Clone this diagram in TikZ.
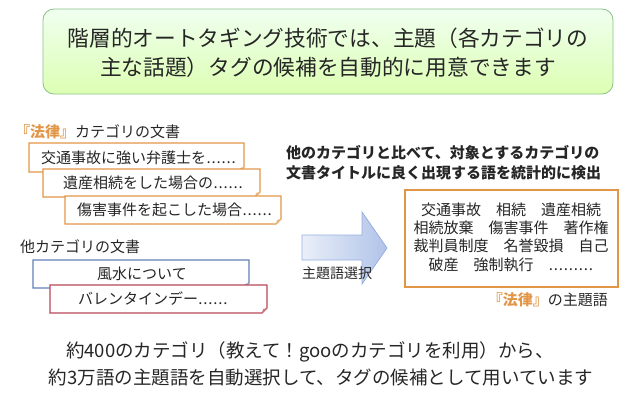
\documentclass[tikz,border=0pt]{standalone}
\usepackage{fontspec}
\newfontfamily\jp{Noto Sans CJK JP}
\newcommand\jdot{\makebox[1em][s]{\hfil.\hfil\hfil.\hfil\hfil.\hfil}}
\usetikzlibrary{calc}

\begin{document}
\begin{tikzpicture}[x=1pt,y=-1pt,
    txt/.style={font=\jp\fontsize{#1}{#1}\selectfont,text=black!85,inner sep=0pt},
    docline/.style={line width=1.1pt}]
    % Colours
    \definecolor{laworange}{RGB}{226,150,72}
    \definecolor{otherblue}{RGB}{98,128,185}
    \definecolor{otherred}{RGB}{185,72,88}
    \definecolor{arrowblue}{RGB}{150,175,225}
    \colorlet{titleedge}{green!30!gray!70}

    \useasboundingbox (0,0) rectangle (640,410);

    % Title box
    \shade[rounded corners=11pt,top color=green!6!white,bottom color=green!45!yellow!30!white,draw=titleedge,line width=0.8pt]
        (43,9) rectangle (613,94);
    \node[txt=21.7,align=center] (title) at (328,53)
        {階層的オートタギング技術では、主題（各カテゴリの\\[7pt]主な話題）タグの候補を自動的に用意できます};

    % Document cards (drawn back to front)
    \foreach \xa/\ya/\xb/\yb/\c in {29/143/244/172/laworange, 43/169/260/197/laworange,
        65/196/281/224/laworange, 33/260/249/288/otherblue, 50/285/267/313/otherred}
    {
        \filldraw[docline,draw=\c,fill=white] (\xa,\ya) -- (\xb,\ya) -- (\xb,\yb-5) -- (\xb-5,\yb) -- (\xa,\yb) -- cycle;
        \fill[\c!70] (\xb,\yb-5) -- (\xb-5,\yb) -- (\xb-4,\yb-4) -- cycle;
    }

    % Card labels
    \node[txt=15,anchor=west] (lawhead) at (15,132) {{\bfseries\color{laworange}『法律』}カテゴリの文書};
    \node[txt=15,anchor=west] (doca) at (41,157.5) {交通事故に強い弁護士を\jdot\jdot};
    \node[txt=15,anchor=west] (docb) at (63,183) {遺産相続をした場合の\jdot\jdot};
    \node[txt=15,anchor=west] (docc) at (77,210) {傷害事件を起こした場合\jdot\jdot};
    \node[txt=15,anchor=west] (otherhead) at (20,247) {他カテゴリの文書};
    \node[txt=15] (docd) at (142,274) {風水について};
    \node[txt=15] (doce) at (153,299) {バレンタインデー\jdot\jdot};

    % Block arrow
    \shade[left color=arrowblue!20,right color=arrowblue!75,draw=arrowblue,line width=0.8pt]
        (302,235) -- (362,235) -- (362,212) -- (387,248) -- (362,284) -- (362,260) -- (302,260) -- cycle;
    \node[txt=14,anchor=west] (select) at (302,273) {主題語選択};

    % Heading on the right
    \node[txt=15,anchor=north west,align=left,font=\jp\bfseries\fontsize{15}{20}\selectfont] (method) at (286,145)
        {他のカテゴリと比べて、対象とするカテゴリの\\文書タイトルに良く出現する語を統計的に検出};

    % Topic word box
    \draw[docline,draw=laworange,fill=white] (405,190) rectangle (618,287);
    \node[txt=15,align=center,font=\jp\fontsize{15}{18.3}\selectfont] (topics) at (511,237)
        {交通事故　相続　遺産相続\\相続放棄　傷害事件　著作権\\裁判員制度　名誉毀損　自己\\破産　強制執行　\jdot\jdot\jdot};
    \node[txt=15,anchor=east] (topichead) at (608,300) {{\bfseries\color{laworange}『法律』}の主題語};

    % Bottom note
    \node[txt=18.5] (notea) at (310,352) {約400のカテゴリ（教えて！gooのカテゴリを利用）から、};
    \node[txt=18.5] (noteb) at (321,377) {約3万語の主題語を自動選択して、タグの候補として用いています};

\end{tikzpicture}
\end{document}
